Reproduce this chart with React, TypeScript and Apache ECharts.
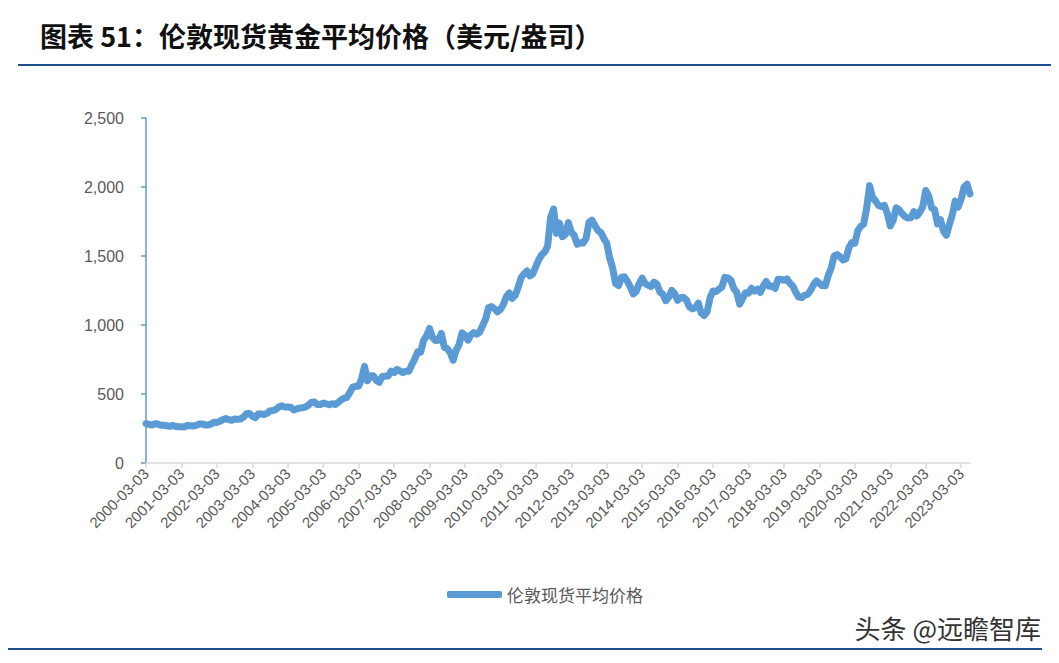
import React, { useEffect, useRef } from "react";
import * as echarts from "echarts";

const title = "图表 51：伦敦现货黄金平均价格（美元/盎司）";
const seriesName = "伦敦现货平均价格";
const watermark = "头条 @远瞻智库";
const startYear = 2000;
const startMonth = 3;

// Monthly prices (USD/oz), 2000-03 .. 2023-06
const prices2000 = [286, 280, 275, 285, 282, 274, 273, 270, 266, 272];
const prices2001 = [266, 262, 263, 261, 272, 270, 268, 273, 283, 283, 276, 276];
const prices2002 = [282, 296, 294, 302, 314, 322, 314, 310, 319, 317, 319, 333];
const prices2003 = [357, 359, 340, 328, 355, 356, 351, 360, 379, 379, 389, 407];
const prices2004 = [414, 405, 406, 404, 384, 392, 398, 401, 406, 420, 439, 442];
const prices2005 = [424, 423, 434, 429, 422, 430, 424, 438, 456, 469, 476, 510];
const prices2006 = [549, 555, 557, 610, 700, 596, 633, 632, 598, 585, 627, 629];
const prices2007 = [631, 665, 655, 679, 667, 655, 665, 665, 712, 754, 806, 803];
const prices2008 = [889, 922, 975, 909, 888, 889, 939, 839, 829, 800, 745, 816];
const prices2009 = [858, 943, 924, 890, 928, 946, 934, 949, 996, 1043, 1127, 1134];
const prices2010 = [1118, 1095, 1113, 1148, 1205, 1232, 1193, 1215, 1271, 1343, 1370, 1391];
const prices2011 = [1356, 1372, 1424, 1474, 1510, 1529, 1573, 1780, 1840, 1665, 1739, 1640];
const prices2012 = [1656, 1742, 1673, 1650, 1585, 1596, 1594, 1626, 1744, 1760, 1721, 1684];
const prices2013 = [1671, 1627, 1593, 1485, 1414, 1300, 1286, 1347, 1349, 1316, 1275, 1225];
const prices2014 = [1244, 1300, 1340, 1299, 1288, 1279, 1311, 1296, 1239, 1222, 1176, 1202];
const prices2015 = [1251, 1227, 1179, 1198, 1199, 1181, 1131, 1117, 1125, 1159, 1086, 1068];
const prices2016 = [1097, 1200, 1246, 1242, 1260, 1276, 1345, 1341, 1326, 1266, 1238, 1151];
const prices2017 = [1192, 1234, 1231, 1266, 1246, 1260, 1236, 1283, 1315, 1280, 1283, 1265];
const prices2018 = [1331, 1331, 1324, 1335, 1303, 1282, 1238, 1202, 1198, 1215, 1221, 1250];
const prices2019 = [1291, 1320, 1301, 1286, 1284, 1359, 1413, 1500, 1510, 1495, 1471, 1480];
const prices2020 = [1560, 1597, 1592, 1683, 1715, 1732, 1846, 2010, 1922, 1900, 1866, 1858];
const prices2021 = [1867, 1808, 1718, 1760, 1850, 1834, 1807, 1785, 1775, 1777, 1821, 1790];
const prices2022 = [1817, 1856, 1975, 1937, 1849, 1837, 1733, 1764, 1681, 1650, 1726, 1797];
const prices2023 = [1898, 1855, 1912, 2000, 2020, 1950];

const yTicks = [0, 500, 1000, 1500, 2000, 2500];

const allPrices = [
  ...prices2000, ...prices2001, ...prices2002, ...prices2003, ...prices2004,
  ...prices2005, ...prices2006, ...prices2007, ...prices2008, ...prices2009,
  ...prices2010, ...prices2011, ...prices2012, ...prices2013, ...prices2014,
  ...prices2015, ...prices2016, ...prices2017, ...prices2018, ...prices2019,
  ...prices2020, ...prices2021, ...prices2022, ...prices2023,
];

const categories = allPrices.map((_, i) => {
  const m0 = startMonth - 1 + i;
  const y = startYear + Math.floor(m0 / 12);
  const m = (m0 % 12) + 1;
  return `${y}-${String(m).padStart(2, "0")}-03`;
});

export default function App() {
  const ref = useRef<HTMLDivElement>(null);
  useEffect(() => {
    if (!ref.current) return;
    const chart = echarts.init(ref.current, undefined, { renderer: "svg" });
    const cjk = '"Noto Sans CJK SC", "Noto Sans", sans-serif';
    const latin = '"Liberation Sans", Arial, sans-serif';
    chart.setOption({
      animation: false,
      backgroundColor: "#ffffff",
      graphic: [
        {
          type: "text",
          left: 40,
          top: 22,
          style: {
            text: title,
            font: `bold 27px ${cjk}`,
            fill: "#111111",
          },
        },
        {
          type: "line",
          shape: { x1: 18, y1: 65, x2: 1059, y2: 65 },
          style: { stroke: "#1F4E8C", lineWidth: 2 },
        },
        {
          type: "text",
          right: 18,
          top: 614,
          style: {
            text: watermark,
            font: `26px ${cjk}`,
            fill: "#333333",
          },
        },
        {
          type: "line",
          shape: { x1: 0, y1: 649, x2: 1042, y2: 649 },
          style: { stroke: "#1F4E8C", lineWidth: 2 },
        },
      ],
      grid: { left: 146, right: 89, top: 118, bottom: 200, containLabel: false },
      legend: {
        data: [seriesName],
        left: 442,
        top: 581,
        icon: "roundRect",
        itemWidth: 55,
        itemHeight: 7,
        itemGap: 4,
        textStyle: { fontSize: 17, color: "#595959", fontFamily: cjk },
      },
      xAxis: {
        type: "category",
        data: categories,
        boundaryGap: false,
        axisLine: { lineStyle: { color: "#d9d9d9", width: 1.5 } },
        axisTick: {
          alignWithLabel: true,
          interval: (i: number) => i % 12 === 0,
          length: 5,
          lineStyle: { color: "#d9d9d9", width: 1.5 },
        },
        axisLabel: {
          interval: (i: number) => i % 12 === 0,
          rotate: 45,
          fontSize: 15,
          color: "#595959",
          fontFamily: latin,
          margin: 8,
        },
        splitLine: { show: false },
      },
      yAxis: {
        type: "value",
        min: yTicks[0],
        max: yTicks[yTicks.length - 1],
        interval: 500,
        axisLine: { show: true, lineStyle: { color: "#5B9BD5", width: 1.5 } },
        axisTick: { show: true, length: 5, lineStyle: { color: "#5B9BD5", width: 1.5 } },
        axisLabel: {
          fontSize: 16,
          color: "#595959",
          margin: 22,
          fontFamily: latin,
          formatter: (v: number) => v.toLocaleString("en-US"),
        },
        splitLine: { show: false },
      },
      series: [
        {
          name: seriesName,
          type: "line",
          data: allPrices,
          symbol: "none",
          lineStyle: { color: "#5B9BD5", width: 7, join: "round", cap: "round" },
          itemStyle: { color: "#5B9BD5" },
        },
      ],
    });
    return () => chart.dispose();
  }, []);
  return <div ref={ref} style={{ width: 1059, height: 663, margin: -8 }} />;
}
